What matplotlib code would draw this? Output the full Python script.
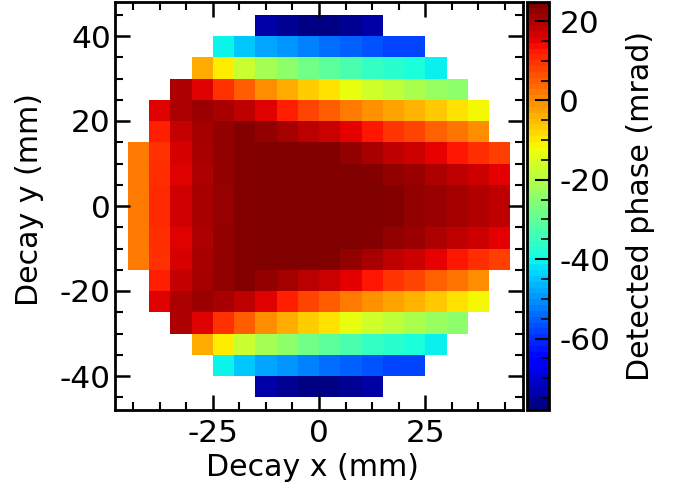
#!/usr/bin/env python3
"""Detected phase map over the decay plane."""
import numpy as np
import matplotlib
matplotlib.use('Agg')
import matplotlib.pyplot as plt
from matplotlib.cm import ScalarMappable
from matplotlib.ticker import MultipleLocator

N = np.nan

# phase per 5 mm cell in mrad, rows from y = +45 down to y = -45
row_40 = [N, N, N, N, N, N, -74, -76, -77.5, -77.5, -76, -74.5, N, N, N, N, N, N]
row_35 = [N, N, N, N, -40.5, -45, -48.5, -50, -52, -54, -55.5, -57, -58, -58, N, N, N, N]
row_30 = [N, N, N, -3, -10.5, -17, -21.5, -24.5, -28, -30.5, -33, -35.5, -37, -38.5, -41, N, N, N]
row_25 = [N, N, 20.6, 16.2, 10, 5.2, 0, -3, -6.6, -9, -13.2, -16.3, -18.4, -20.7, -23.3, -24.5, N, N]
row_20 = [N, 16, 20.6, 22, 21, 19, 16, 12.3, 8, 5.2, 2, -0.3, -2.4, -4, -6.2, -9, -11.4, N]
row_15 = [N, 12, 18.5, 21.5, 23, 24, 23, 21.5, 19.5, 18, 15.7, 12.8, 9.6, 8, 4.8, 3, 0, N]
row_10 = [2, 10, 17, 21, 23, 24, 24.8, 24.8, 24.5, 24.5, 23, 21, 19, 17.6, 15.2, 12.8, 10.5, 8.5]
row_05 = [2, 10.5, 16, 20.6, 23, 24, 24.5, 24.8, 24.8, 24.8, 24.5, 24, 23, 22, 20.6, 19, 17.6, 15.7]
row_00 = [2, 11, 17.5, 21, 22.7, 24, 24.5, 24.8, 24.8, 24.8, 24.8, 24.6, 24, 23, 22.3, 21.5, 20, 19]
row_m05 = [2, 11, 17.5, 21, 22.7, 24, 24.5, 24.8, 24.8, 24.8, 24.8, 24.6, 24, 23, 22.3, 21.5, 20, 19]
row_m10 = [2, 10.5, 16, 20.6, 23, 24, 24.5, 24.8, 24.8, 24.8, 24.5, 24, 23, 22, 20.6, 19, 17.6, 15.7]
row_m15 = [2, 10, 17, 21, 23, 24, 24.8, 24.8, 24.5, 24.5, 23, 21, 19, 17.6, 15.2, 12.8, 10.5, 8.5]
row_m20 = [N, 12, 18.5, 21.5, 23, 24, 23, 21.5, 19.5, 18, 15.7, 12.8, 9.6, 8, 4.8, 3, 0, N]
row_m25 = [N, 16, 20.6, 22, 21, 19, 16, 12.3, 8, 5.2, 2, -0.3, -2.4, -4, -6.2, -9, -11.4, N]
row_m30 = [N, N, 20.6, 16.2, 10, 5.2, 0, -3, -6.6, -9, -13.2, -16.3, -18.4, -20.7, -23.3, -24.5, N, N]
row_m35 = [N, N, N, -3, -10.5, -17, -21.5, -24.5, -28, -30.5, -33, -35.5, -37, -38.5, -41, N, N, N]
row_m40 = [N, N, N, N, -40.5, -45, -48.5, -50, -52, -54, -55.5, -57, -58, -58, N, N, N, N]
row_m45 = [N, N, N, N, N, N, -74, -76, -77.5, -77.5, -76, -74.5, N, N, N, N, N, N]

phase = np.array([row_40, row_35, row_30, row_25, row_20, row_15, row_10, row_05, row_00,
                  row_m05, row_m10, row_m15, row_m20, row_m25, row_m30, row_m35, row_m40, row_m45])
edges = np.arange(-45, 50, 5)

plt.rcParams['font.family'] = 'DejaVu Sans'
plt.rcParams['axes.unicode_minus'] = False

W, H = 674, 491
fig = plt.figure(figsize=(W / 100, H / 100), dpi=100)
ax = fig.add_axes([115 / W, 1 - 410 / H, 408 / W, 408 / H])
cax = fig.add_axes([527 / W, 1 - 410 / H, 22 / W, 408 / H])

mesh = ax.pcolormesh(edges, edges, phase[::-1], cmap='jet', vmin=-78, vmax=24.8)

ax.set_xlim(-48, 48)
ax.set_ylim(-48, 48)
ax.xaxis.set_major_locator(MultipleLocator(25))
ax.xaxis.set_minor_locator(MultipleLocator(6.25))
ax.yaxis.set_major_locator(MultipleLocator(20))
ax.yaxis.set_minor_locator(MultipleLocator(5))
ax.tick_params(which='major', direction='in', top=True, right=True, length=10.5, width=1.8)
ax.tick_params(which='minor', direction='in', top=True, right=True, length=6, width=1.5)
ax.tick_params(axis='x', which='major', labelsize=22.5, pad=6.5)
ax.tick_params(axis='y', which='major', labelsize=22.5, pad=3)
ax.set_xlabel('Decay x (mm)', fontsize=21.6)
ax.set_ylabel('Decay y (mm)', fontsize=21.6)
ax.xaxis.set_label_coords(0.483, -0.105)
ax.yaxis.set_label_coords(-0.174, 0.515)
for s in ax.spines.values():
    s.set_linewidth(2)

# colour bar is banded in the reference
bands = ScalarMappable(norm=mesh.norm, cmap=plt.get_cmap('jet', 70))
cb = fig.colorbar(bands, cax=cax)
cb.ax.yaxis.set_major_locator(MultipleLocator(20))
cb.ax.yaxis.set_minor_locator(MultipleLocator(5))
cb.ax.tick_params(which='major', direction='in', right=True, length=10, width=1.5, labelsize=22.5, pad=7.5)
cb.ax.tick_params(which='minor', direction='in', right=True, length=6, width=1.2)
cb.outline.set_linewidth(2)
cb.set_label('Detected phase (mrad)', fontsize=21.6)
cb.ax.yaxis.set_label_coords(4.5, 0.5)

fig.savefig('out.png', dpi=100, facecolor='white')
